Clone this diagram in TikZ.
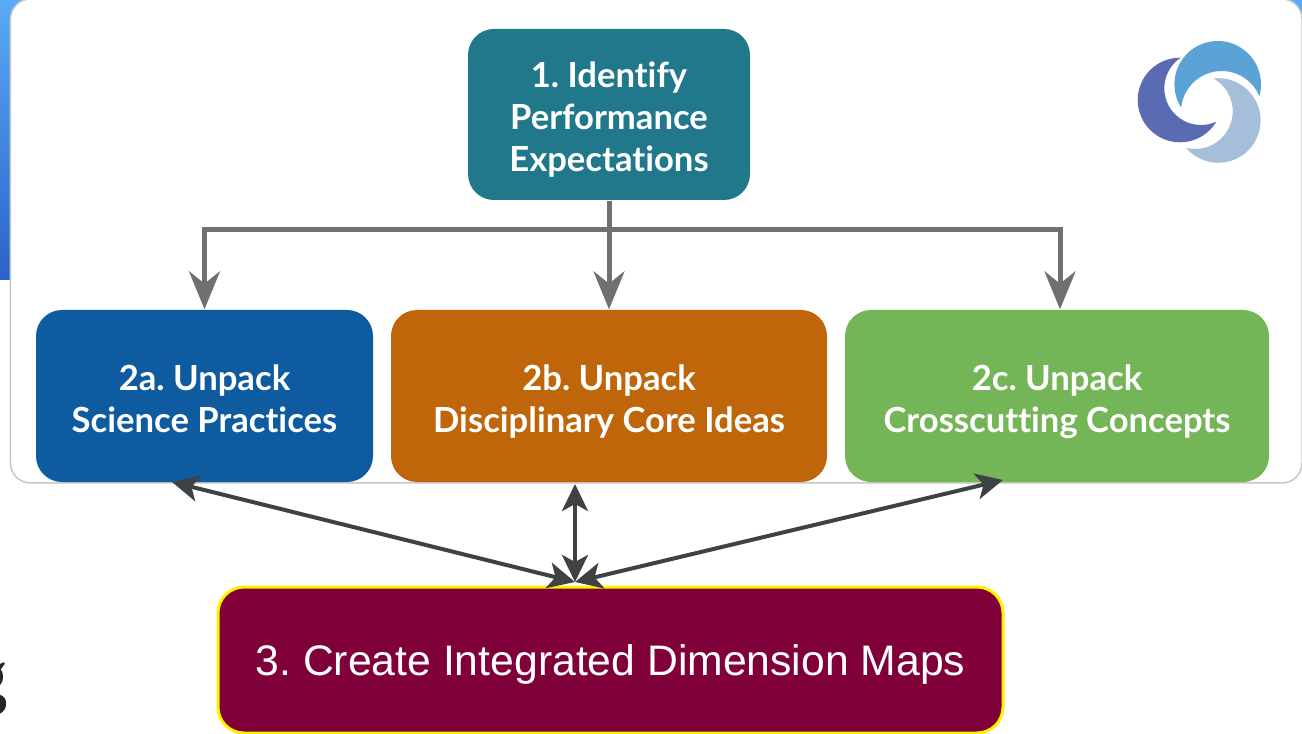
\documentclass[tikz,border=0pt]{standalone}
\usepackage{fontspec}
\setmainfont{Lato}[Ligatures=NoCommon]
\newfontfamily\arialfont{Liberation Sans}
\newfontfamily\timesfont{Liberation Serif}
\usetikzlibrary{arrows.meta}
\definecolor{dteal}{HTML}{20788A}
\definecolor{dblue}{HTML}{0F5BA0}
\definecolor{dorange}{HTML}{C0660A}
\definecolor{dgreen}{HTML}{74B558}
\definecolor{dwine}{HTML}{80003A}
\definecolor{dgray}{HTML}{707070}
\definecolor{dark}{HTML}{404144}
\definecolor{logoa}{HTML}{5B6BB3}
\definecolor{logob}{HTML}{5BA3D6}
\definecolor{logoc}{HTML}{A5BFDB}
\definecolor{skytop}{HTML}{58ABF5}
\definecolor{skybot}{HTML}{2B62C9}
\tikzset{
  stepbox/.style={rounded corners=0.26cm, text=white, align=center, font=\frenchspacing\fontsize{9.85}{11.95}\selectfont\bfseries, inner sep=0pt,
    execute at begin node={\rule{0pt}{#1}}, execute at end node={\rule[-2.6pt]{0pt}{0pt}}},
  flow/.style={draw=dgray, line width=0.05cm, -{Stealth[length=0.38cm,width=0.31cm]}},
  both/.style={draw=dark, line width=0.04cm, {Stealth[length=0.27cm,width=0.26cm,inset=0.07cm]}-{Stealth[length=0.27cm,width=0.26cm,inset=0.07cm]}}
}
\begin{document}
\begin{tikzpicture}
\useasboundingbox (0,0) rectangle (13.02,7.33);
% backdrop
\fill[white] (0,0) rectangle (13.02,7.33);
\shade[top color=skytop, bottom color=skybot] (0,4.53) rectangle (13.02,7.33);
\draw[draw=black!22, fill=white, line width=0.015cm, rounded corners=0.2cm] (0.105,2.5) rectangle (13.02,7.34);
\node[anchor=east, inner sep=0pt, font=\timesfont\bfseries\fontsize{21}{23}\selectfont, text=black!85] (cutg) at (0.08,0.43) {g};
% logo
\begin{scope}[even odd rule]
\clip (11,5.5) rectangle (13,7.33) (12.01,6.447) circle (0.367);
\fill[logoa] (11.80,6.33) circle (0.423);
\end{scope}
\begin{scope}[even odd rule]
\clip (11,5.5) rectangle (13,7.33) (12.217,6.213) circle (0.407);
\fill[logob] (12.177,6.487) circle (0.433);
\end{scope}
\begin{scope}[even odd rule]
\clip (11,5.5) rectangle (13,7.33) (11.95,6.217) circle (0.377);
\fill[logoc] (12.183,6.125) circle (0.423);
\end{scope}
% boxes
\node[stepbox=35.2pt, fill=dteal, minimum width=2.82cm, minimum height=1.71cm] (expect) at (6.09,6.185) {1. Identify\\Performance\\Expectations};
\node[stepbox=23.1pt, fill=dblue, minimum width=3.37cm, minimum height=1.72cm] (practices) at (2.045,3.37) {2a. Unpack\\Science Practices};
\node[stepbox=23.1pt, fill=dorange, minimum width=4.36cm, minimum height=1.72cm] (ideas) at (6.09,3.37) {2b. Unpack\\Disciplinary Core Ideas};
\node[stepbox=23.1pt, fill=dgreen, minimum width=4.24cm, minimum height=1.72cm] (concepts) at (10.57,3.37) {2c. Unpack\\Crosscutting Concepts};
\node[stepbox=11.6pt, fill=dwine, draw=yellow, line width=0.03cm, minimum width=7.85cm, minimum height=1.46cm, font=\frenchspacing\arialfont\fontsize{12.15}{14}\selectfont] (maps) at (6.105,0.73) {3. Create Integrated Dimension Maps};
% arrows
\coordinate (hub) at (5.75,1.51);
\coordinate (toa) at (1.72,2.51);
\coordinate (tob) at (5.75,2.49);
\coordinate (toc) at (10.03,2.53);
\coordinate (bus) at (6.09,5.03);
\draw[flow] (expect.south) -- (bus) -| (practices.north);
\draw[flow] (expect.south) -- (ideas.north);
\draw[flow] (bus) -| ([xshift=0.03cm]concepts.north);
\draw[both] (hub) -- (toa);
\draw[both] (hub) -- (tob);
\draw[both] (hub) -- (toc);
\end{tikzpicture}
\end{document}
